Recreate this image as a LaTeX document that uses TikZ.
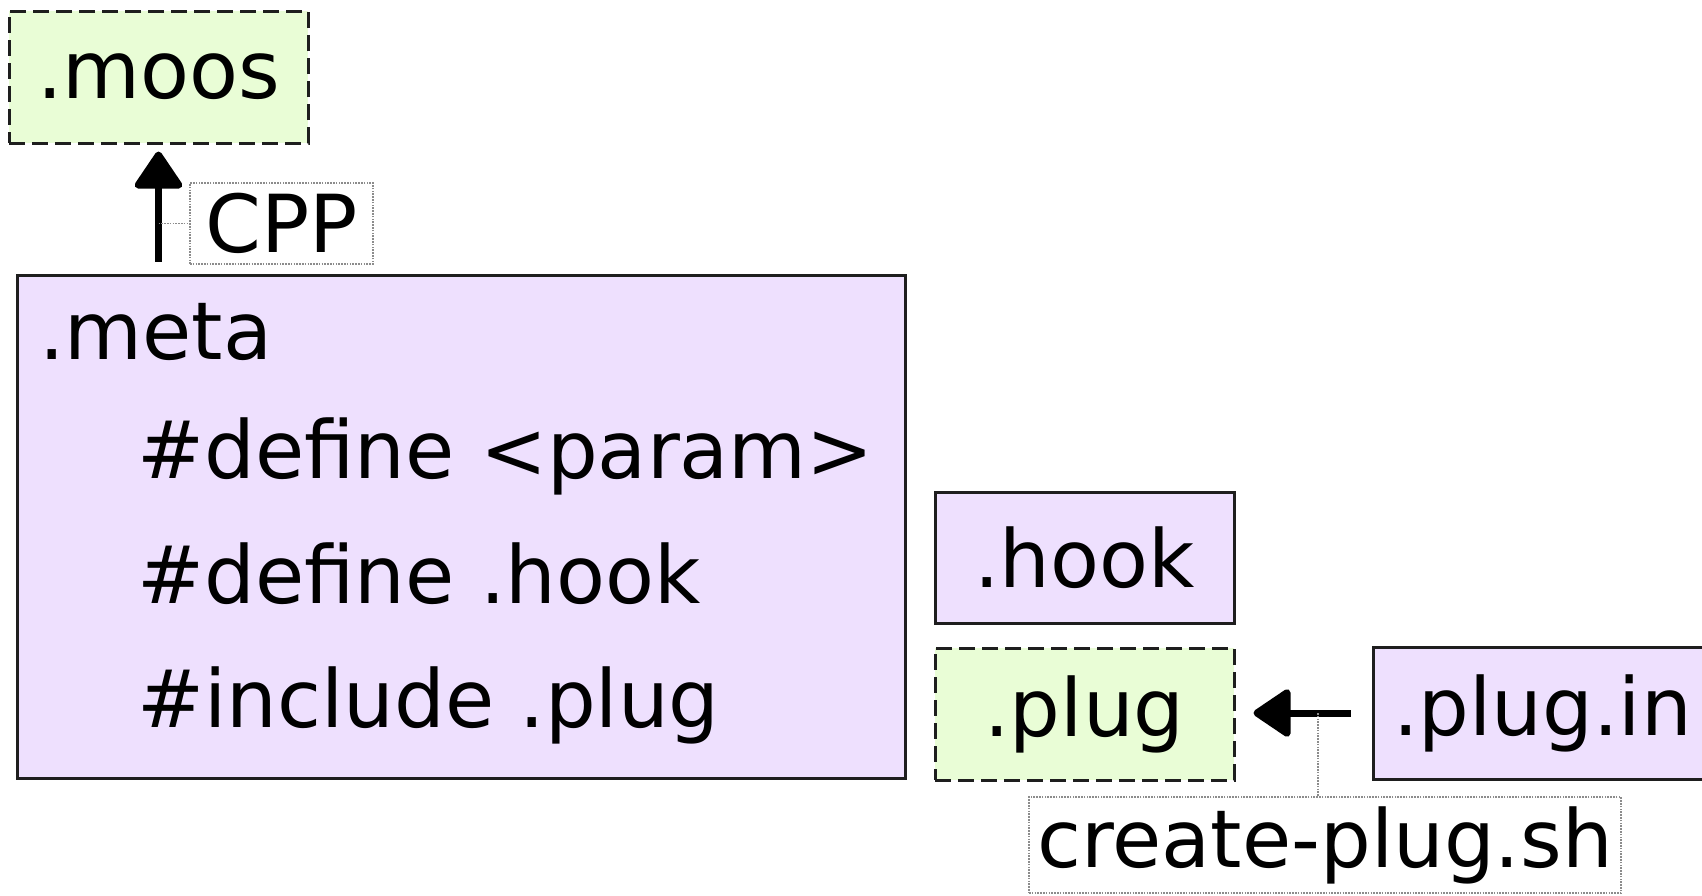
\documentclass[tikz,border=0pt]{standalone}
\usepackage{fontspec}
\setmainfont{DejaVu Sans}
\usetikzlibrary{arrows.meta}
\definecolor{gfill}{RGB}{233,253,214}
\definecolor{pfill}{RGB}{238,224,254}
\definecolor{leadgray}{RGB}{140,140,140}
\definecolor{edgeblack}{RGB}{30,30,30}
\tikzset{
  big/.style={font=\fontsize{40pt}{48pt}\selectfont},
  box/.style={big, draw=edgeblack, line width=1.5pt, inner sep=0pt, anchor=center},
  genbox/.style={box, fill=gfill, dash pattern=on 8pt off 3.5pt},
  srcbox/.style={box, fill=pfill},
  lblbox/.style={big, draw=leadgray, line width=0.8pt, dash pattern=on 0.8pt off 0.6pt, inner sep=0pt, anchor=center},
  leader/.style={draw=leadgray, line width=0.8pt, dash pattern=on 0.8pt off 0.6pt},
  arr/.style={draw=black, line width=3.5pt, -{Triangle[length=20pt,width=26pt,round]}},
  txt/.style={big, inner sep=0pt, anchor=base west},
}
\begin{document}
\begin{tikzpicture}[x=0.5pt, y=-0.5pt]
\useasboundingbox (0,0) rectangle (1702,895);
\clip (0,0) rectangle (1702,895);
% nodes
\node[genbox, minimum width=149.5pt, minimum height=66pt] (moos) at (158.5,77) {.moos};
\node[lblbox, minimum width=91.5pt, minimum height=40.5pt] (cpp) at (281.5,223.5) {CPP};
\node[srcbox, minimum width=444pt, minimum height=251.5pt] (meta) at (461,526.5) {};
\node[txt] (l1) at (39,359) {.meta};
\node[txt] (l2) at (137,478) {\#define <param>};
\node[txt] (l3) at (137,603) {\#define .hook};
\node[txt] (l4) at (137,727) {\#include .plug};
\node[srcbox, minimum width=149.5pt, minimum height=65.5pt] (hook) at (1084.5,557.5) {.hook};
\node[genbox, minimum width=149.5pt, minimum height=66pt] (plug) at (1084.5,714) {.plug};
\node[srcbox, minimum width=169.5pt, minimum height=66pt] (plugin) at (1542.5,713) {.plug.in};
\node[lblbox, minimum width=296pt, minimum height=48pt] (create) at (1325,845) {create-plug.sh};
% connectors
\draw[arr, shorten <=6pt, shorten >=3.5pt] (meta.north -| moos.south) -- (moos.south);
\coordinate (c1) at (moos.south |- cpp.west);
\draw[leader] (c1) -- (cpp.west);
\draw[arr, shorten <=10.5pt, shorten >=9pt] (plugin.west) -- (plugin.west -| plug.east);
\coordinate (c2) at (1318,713);
\draw[leader] (c2) -- (c2 |- create.north);
\end{tikzpicture}
\end{document}
